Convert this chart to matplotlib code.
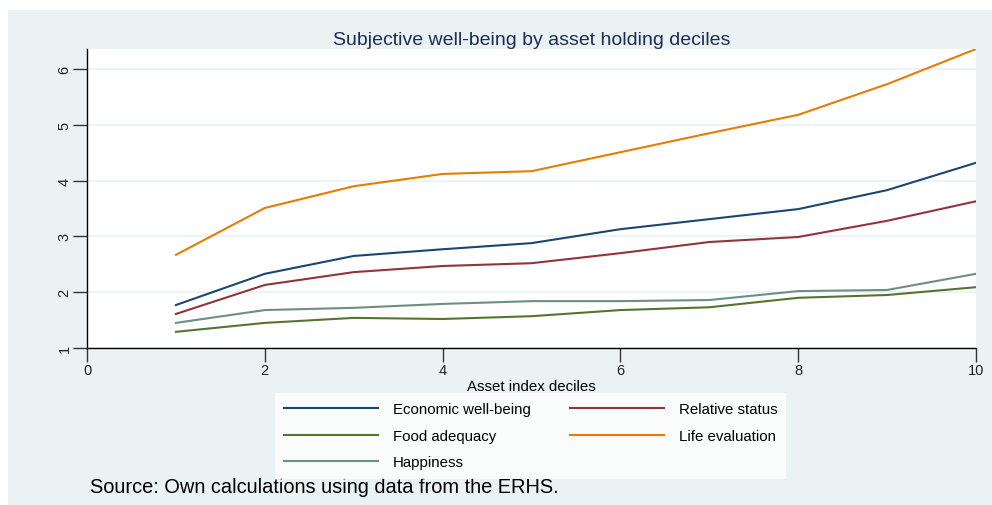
import matplotlib
matplotlib.use('Agg')
import matplotlib.pyplot as plt
from matplotlib.patches import Rectangle

plt.rcParams['font.family'] = ['Liberation Sans', 'DejaVu Sans']

# data
deciles = [1, 2, 3, 4, 5, 6, 7, 8, 9, 10]
economic = [1.77, 2.33, 2.65, 2.77, 2.88, 3.13, 3.31, 3.49, 3.83, 4.32]
relative = [1.61, 2.13, 2.36, 2.47, 2.52, 2.70, 2.90, 2.99, 3.28, 3.63]
food = [1.29, 1.45, 1.54, 1.52, 1.57, 1.68, 1.73, 1.90, 1.95, 2.09]
life = [2.67, 3.51, 3.90, 4.12, 4.17, 4.51, 4.85, 5.18, 5.73, 6.36]
happiness = [1.45, 1.68, 1.72, 1.79, 1.84, 1.84, 1.86, 2.02, 2.04, 2.33]

bg = '#eaf2f3'
W, H = 992, 506
fig = plt.figure(figsize=(W/100, H/100), dpi=100)
fig.patch.set_facecolor('white')
# stata style outer panel
fig.patches.append(Rectangle((8/W, 0), 1 - 8/W, 1 - 11/H, transform=fig.transFigure,
                             facecolor=bg, edgecolor='none', zorder=-10))

ax = fig.add_axes([87/W, 1 - 349/H, (976-87)/W, (349-50)/H])
ax.set_facecolor('white')

l1, = ax.plot(deciles, economic, color='#1a476f', lw=1.5, label='Economic well-being')
l2, = ax.plot(deciles, relative, color='#90353b', lw=1.5, label='Relative status')
l3, = ax.plot(deciles, food, color='#55752f', lw=1.5, label='Food adequacy')
l4, = ax.plot(deciles, life, color='#e37e00', lw=1.5, label='Life evaluation')
l5, = ax.plot(deciles, happiness, color='#6e8e84', lw=1.5, label='Happiness')

ax.set_xlim(0, 10)
ax.set_ylim(1, max(life))
ax.set_xticks([0, 2, 4, 6, 8, 10])
ax.set_yticks([1, 2, 3, 4, 5, 6])
ax.grid(axis='y', color=bg, lw=1.2)
ax.set_axisbelow(True)
for s in ['top', 'right']:
    ax.spines[s].set_visible(False)
for s in ['left', 'bottom']:
    ax.spines[s].set_color('black')
    ax.spines[s].set_linewidth(1)
ax.tick_params(axis='both', length=10, width=1, color='#333333', labelsize=10.5,
               labelcolor='#222222', pad=1)
for t in ax.get_yticklabels():
    t.set_rotation(90)
    t.set_va('center')

ax.set_xlabel('Asset index deciles', fontsize=10.8, labelpad=1)
ax.set_title('Subjective well-being by asset holding deciles', fontsize=14,
             color='#1e2d53', pad=3.5)

fs = 10.8
leg = fig.legend([l1, l3, l5, l2, l4],
                 ['Economic well-being', 'Food adequacy', 'Happiness',
                  'Relative status', 'Life evaluation'],
                 ncol=2, loc='upper center',
                 bbox_to_anchor=(530.5/W, 1 - 394/H),
                 frameon=True, fancybox=False, fontsize=fs,
                 handlelength=6.27, handletextpad=1.0, labelspacing=0.85,
                 borderpad=0.6, borderaxespad=0, columnspacing=2.6)
leg.get_frame().set_facecolor('white')
leg.get_frame().set_edgecolor('white')
leg.get_frame().set_linewidth(0)

fig.text(90/W, 1 - 488/H, 'Source: Own calculations using data from the ERHS.',
         fontsize=14.4, va='center', ha='left')

fig.savefig('out.png', dpi=100)
